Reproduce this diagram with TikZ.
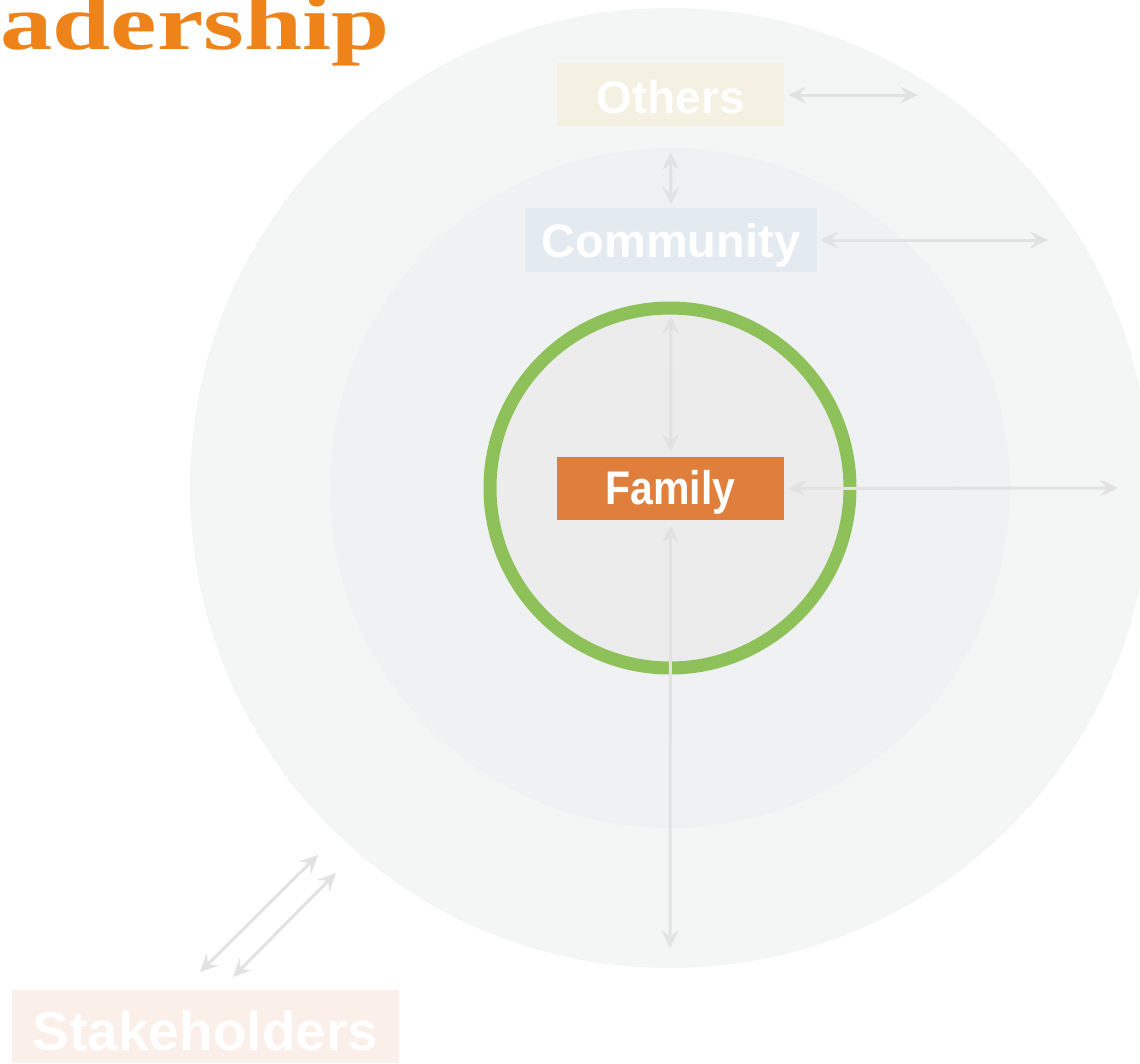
\documentclass[tikz,border=0pt]{standalone}
\usepackage{fontspec}
\setmainfont{Liberation Serif}
\setsansfont{Liberation Sans}
\usetikzlibrary{arrows.meta}
\definecolor{outerc}{HTML}{F4F5F5}
\definecolor{midc}{HTML}{EFF1F2}
\definecolor{innerc}{HTML}{ECECEC}
\definecolor{ringc}{HTML}{8FC15A}
\definecolor{famc}{HTML}{E07E3C}
\definecolor{commc}{HTML}{E3EAF0}
\definecolor{othc}{HTML}{F4F0E2}
\definecolor{stkc}{HTML}{FBEFE9}
\definecolor{arrc}{HTML}{E2E2E2}
\definecolor{titlec}{HTML}{EE8419}
\newcommand{\lowtext}[2]{\raisebox{-#1}[\height][\depth]{#2}}
\tikzset{
  box/.style={inner sep=0pt, text=white, font=\sffamily\bfseries},
  tip/.tip={Stealth[length=18pt,width=17pt,inset=7pt]},
  link/.style={draw=arrc, line width=3pt, tip-tip}
}
\begin{document}
\begin{tikzpicture}[x=1pt,y=-1pt]
\useasboundingbox (0,0) rectangle (1140,1063);
\clip (0,0) rectangle (1140,1063);
\fill[white] (0,0) rectangle (1140,1063);
% circles
\fill[outerc] (670,488) circle[radius=480];
\fill[midc] (670,488) circle[radius=340];
\draw[ringc, fill=innerc, line width=13pt] (670,488) circle[radius=180];
% title
\node[anchor=base east, inner sep=0pt, text=titlec, xscale=1.34,
  font=\fontsize{78}{80}\selectfont\bfseries] (title) at (390,49) {adership};
% boxes
\node[box, fill=othc, minimum width=227pt, minimum height=63pt,
  font=\fontsize{46}{50}\selectfont\sffamily\bfseries] (others) at (670.5,94.5) {\lowtext{3pt}{Others}};
\node[box, fill=commc, minimum width=292pt, minimum height=64pt,
  font=\fontsize{47}{50}\selectfont\sffamily\bfseries] (community) at (671,240) {\lowtext{5pt}{Community}};
\node[box, fill=famc, minimum width=227pt, minimum height=63pt,
  font=\fontsize{41}{45}\selectfont\sffamily\bfseries] (family) at (670.5,488.5) {\lowtext{4pt}{\scalebox{1}[1.15]{Family}}};
\node[box, fill=stkc, minimum width=387pt, minimum height=73pt,
  font=\fontsize{55}{60}\selectfont\sffamily\bfseries] (stake) at (205.5,1026.5) {\lowtext{4pt}{Stakeholders}};
% free ends
\coordinate (oR) at (918,95);
\coordinate (cR) at (1048,240);
\coordinate (fR) at (1118,488);
\coordinate (fD) at (670,948);
\coordinate (d1a) at (200,972);
\coordinate (d1b) at (318,855);
\coordinate (d2a) at (233,977);
\coordinate (d2b) at (336,873);
% connectors
\draw[link, shorten <=4pt] (others.east |- 0,95) -- (oR);
\draw[link, shorten <=26pt, shorten >=3pt] (others.south) -- (community.north);
\draw[link, shorten <=3pt] (community.east) -- (cR);
\draw[link, shorten <=44pt, shorten >=5pt] (community.south) -- (family.north);
\draw[link, shorten <=4pt] (family.east) -- (fR);
\draw[link, shorten <=5pt] (family.south) -- (fD);
\draw[link] (d1a) -- (d1b);
\draw[link] (d2a) -- (d2b);
\end{tikzpicture}
\end{document}
